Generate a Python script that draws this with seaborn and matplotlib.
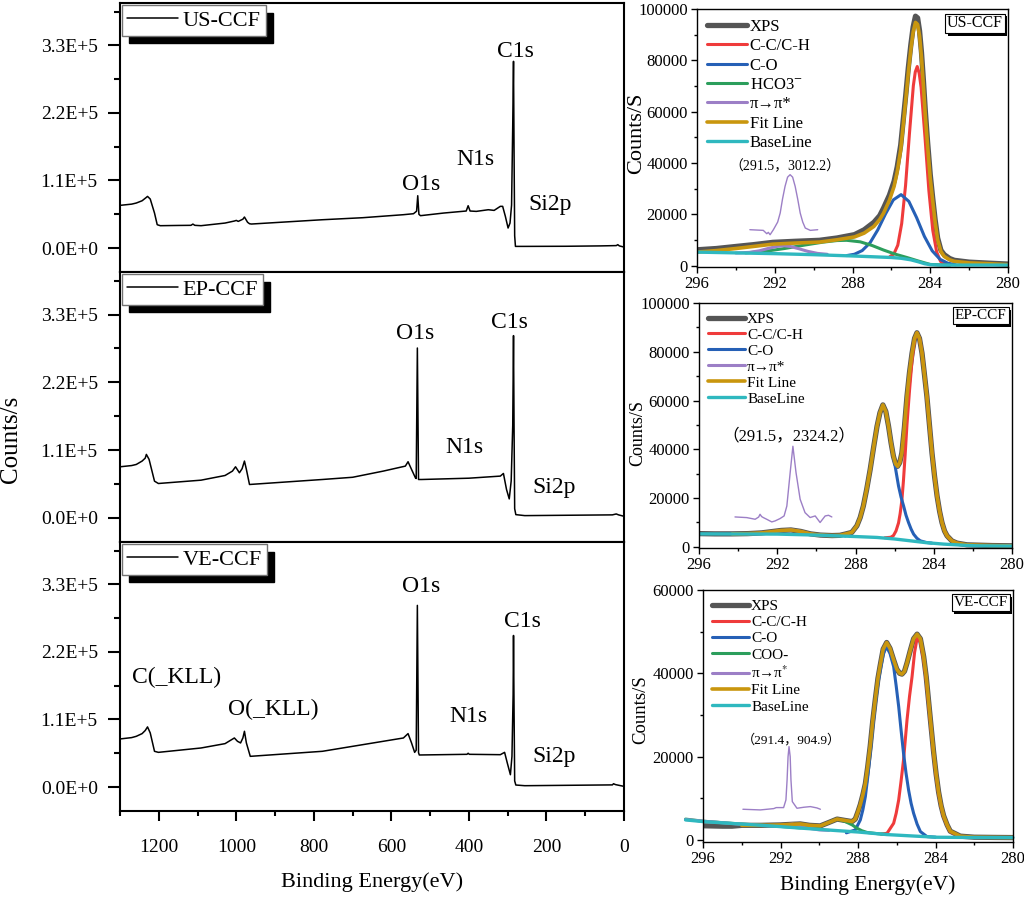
# -*- coding: utf-8 -*-
"""
XPS survey spectra and C1s fits for US-CCF, EP-CCF and VE-CCF
"""

import matplotlib
matplotlib.use("Agg")
import matplotlib.pyplot as plt
import matplotlib.patheffects as pe
from matplotlib.ticker import MultipleLocator
import seaborn as sns

# Section 1: survey spectra (binding energy eV, counts/s)
us_survey_be = [1300, 1270, 1258, 1243, 1233, 1229, 1222, 1211, 1204, 1196, 1150, 1117, 1112, 1107,
                1091, 1029, 1005, 1000, 995, 983, 979, 971, 966, 961, 778, 674, 569, 543, 535, 532,
                529, 525, 465, 407, 402, 397, 381, 350, 335, 319, 313, 306, 299, 294, 290, 287, 285,
                283.5, 282, 280, 256, 150, 60, 20, 16, 12, 0]
us_survey_cps = [69500, 71500, 73300, 77000, 82000, 84100, 79800, 57000, 38000, 36400, 36800, 37000,
                 39000, 37000, 36400, 40700, 44000, 45000, 43400, 47000, 50500, 42000, 39600, 39100,
                 46100, 49400, 54300, 55900, 60000, 85200, 55000, 52700, 57000, 60300, 68900, 60300,
                 59700, 62400, 61300, 67900, 67900, 51600, 32600, 40700, 70000, 200000, 304000,
                 150000, 20000, 2700, 2700, 2900, 3500, 4000, 5500, 3500, 1600]

ep_survey_be = [1300, 1270, 1258, 1243, 1235, 1232, 1225, 1211, 1201, 1091, 1029, 1010, 1002, 992,
                985, 979, 974, 966, 778, 700, 621, 564, 557, 548, 538, 536, 533, 530, 522, 400, 319,
                311, 303, 296, 291, 287, 285, 283.5, 282, 279, 256, 30, 20, 14, 0]
ep_survey_cps = [83000, 85000, 86800, 92300, 97000, 103100, 95000, 59700, 55900, 61300, 68900, 76000,
                 83000, 73300, 80000, 92300, 78700, 54300, 62400, 66000, 76000, 84100, 91200, 78700,
                 65100, 64000, 275700, 62400, 62400, 64500, 67900, 72200, 46100, 30900, 60000,
                 150000, 295800, 140000, 15000, 5400, 3800, 5000, 6500, 5000, 2700]

ve_survey_be = [1300, 1270, 1258, 1243, 1235, 1229, 1222, 1211, 1201, 1091, 1029, 1005, 997, 989,
                983, 979, 974, 964, 778, 569, 557, 548, 540, 536, 533, 530, 528, 405, 402, 399, 319,
                308, 301, 293, 289, 286, 285, 283.5, 282, 279, 256, 30, 27, 22, 0]
ve_survey_cps = [78300, 80500, 82600, 87000, 92000, 97900, 88100, 58200, 56500, 63600, 70700, 79900,
                 74500, 71800, 80000, 90800, 71800, 50000, 58200, 79900, 87000, 71800, 56500, 60000,
                 295800, 56000, 52200, 53300, 55000, 53300, 52700, 56500, 39100, 20100, 50000,
                 150000, 246800, 120000, 10000, 3300, 2200, 3500, 5400, 4000, 1100]

survey_ticks = [0, 1.1e5, 2.2e5, 3.3e5]
survey_tick_labels = ["0.0E+0", "1.1E+5", "2.2E+5", "3.3E+5"]

us_peak_names = ["C1s", "N1s", "O1s", "Si2p"]
us_peak_be = [279, 383, 522, 191]
us_peak_cps = [320000, 143800, 103100, 70600]
ep_peak_names = ["O1s", "C1s", "N1s", "Si2p"]
ep_peak_be = [538, 296, 411, 181]
ep_peak_cps = [298500, 317600, 114000, 48900]
ve_peak_names = ["O1s", "C1s", "C(_KLL)", "O(_KLL)", "N1s", "Si2p"]
ve_peak_be = [522, 261, 1154, 905, 402, 181]
ve_peak_cps = [327300, 270200, 177800, 126100, 115300, 50000]

# Section 2: C1s high resolution, US-CCF
us_xps_be = [296.0, 295.0, 294.0, 293.1, 292.1, 291.0, 289.7, 288.8, 287.9, 287.4, 286.9, 286.6,
             286.4, 286.1, 285.86, 285.7, 285.52, 285.4, 285.26, 285.13, 285.0, 284.88, 284.76,
             284.65, 284.55, 284.45, 284.35, 284.25, 284.14, 284.0, 283.88, 283.75, 283.62,
             283.45, 283.28, 283.0, 282.76, 282.0, 281.0, 280.0]
us_xps_cps = [6200, 6700, 7500, 8200, 9100, 9500, 9900, 10800, 12100, 14000, 16900, 19500, 22500,
              27500, 32900, 38500, 47000, 56000, 66500, 77000, 86000, 93000, 97200, 96500, 91500,
              83000, 72000, 60000, 48500, 35500, 26800, 18000, 10800, 6000, 4300, 2800, 2100,
              1400, 1000, 650]
us_fit_be = us_xps_be
us_fit_cps = [5300, 5900, 6700, 7500, 8400, 8800, 9200, 10100, 11200, 12700, 15300, 18000, 20500,
              25500, 30900, 36500, 45200, 54000, 64700, 75000, 84200, 91000, 94800, 94000, 89500,
              81000, 70000, 58000, 47000, 34000, 25700, 17000, 10100, 5500, 3600, 2300, 1700,
              1100, 800, 400]
us_cc_be = [286.07, 285.87, 285.67, 285.47, 285.27, 285.07, 284.87, 284.77, 284.67, 284.57, 284.47,
            284.27, 284.07, 283.87, 283.67, 283.47, 283.27, 283.0]
us_cc_cps = [3600, 4600, 8000, 16400, 31300, 51500, 70100, 75500, 77600, 75000, 69400, 50000,
             29200, 13800, 5350, 1700, 530, 300]
us_co_be = [288.3, 287.9, 287.5, 287.1, 286.7, 286.3, 285.9, 285.5, 285.1, 284.7, 284.3, 283.9,
            283.5, 283.1, 282.7]
us_co_cps = [3950, 4470, 5900, 8900, 13950, 20200, 25650, 27700, 25050, 18700, 11400, 5800, 2530,
             990, 400]
us_hco3_be = [293.5, 292.5, 291.5, 290.5, 289.5, 288.8, 288.3, 287.6, 287.0, 286.4, 285.8, 285.2,
              284.6, 284.0, 283.0]
us_hco3_cps = [5000, 5600, 6700, 8000, 9200, 9800, 9900, 9300, 7900, 6100, 4500, 3200, 1800, 500,
               200]
us_pi_be = [294.0, 293.3, 292.8, 292.3, 291.9, 291.55, 291.2, 290.8, 290.3, 289.8, 289.3]
us_pi_cps = [4950, 5200, 5800, 6800, 7500, 7800, 7500, 6700, 5600, 4800, 4450]
us_base_be = [296.0, 294.0, 292.0, 290.0, 288.0, 287.0, 286.0, 285.5, 285.0, 284.6, 284.3, 284.0,
              283.5, 282.0, 280.0]
us_base_cps = [5300, 5000, 4700, 4300, 3800, 3500, 3200, 2900, 2300, 1500, 800, 400, 250, 250, 250]
us_zoom_be = [293.28, 292.59, 292.41, 292.33, 292.24, 292.07, 291.85, 291.72, 291.6, 291.47,
              291.34, 291.21, 291.08, 290.95, 290.82, 290.69, 290.56, 290.43, 290.17, 289.79]
us_zoom_cps = [14030, 13770, 12470, 12990, 12080, 14030, 17000, 20520, 26000, 30920, 34500, 35460,
               34500, 30920, 26000, 20520, 17000, 14680, 13770, 14030]

# Section 3: C1s high resolution, EP-CCF
ep_fit_be = [294.3, 293.5, 292.8, 292.3, 291.8, 291.3, 290.8, 290.3, 289.8, 289.2, 288.8, 288.53,
             288.19, 287.93, 287.76, 287.6, 287.43, 287.25, 287.08, 286.9, 286.75, 286.6, 286.45,
             286.31, 286.18, 286.06, 285.95, 285.85, 285.74, 285.63, 285.5, 285.37, 285.24,
             285.11, 284.98, 284.86, 284.73, 284.6, 284.48, 284.35, 284.22, 284.09, 283.96,
             283.83, 283.7, 283.58, 283.45, 283.32, 283.07, 282.81, 282.3, 281.0, 280.0]
ep_fit_cps = [5300, 5400, 5700, 6200, 6700, 6900, 6300, 5300, 4800, 4600, 4700, 5200, 5900, 8600,
              12000, 16700, 23500, 31700, 40500, 49400, 55000, 58200, 55500, 49400, 42500, 37100,
              34000, 33000, 34500, 38500, 49000, 61600, 71500, 79400, 85500, 87800, 85500, 79400,
              71000, 61600, 50000, 38500, 29000, 20800, 14500, 9960, 6500, 4500, 2400, 1500, 800,
              500, 400]
ep_xps_be = [296.0, 295.2] + ep_fit_be
ep_xps_cps = [5400, 5300] + ep_fit_cps
ep_cc_be = [286.5, 286.2, 286.06, 285.93, 285.8, 285.72, 285.63, 285.55, 285.46, 285.37, 285.24,
            285.11, 284.98, 284.86, 284.73, 284.6, 284.48, 284.35, 284.22, 284.09, 283.96, 283.83,
            283.7, 283.58, 283.45, 283.32, 283.07, 282.81, 282.5]
ep_cc_cps = [3700, 3900, 4600, 6500, 9800, 13500, 19000, 27000, 38000, 50000, 64000, 76500, 85000,
             87700, 85500, 79400, 71000, 61600, 50000, 38500, 29000, 20800, 14500, 9960, 6500,
             4500, 2400, 1500, 900]
ep_co_be = [288.53, 288.19, 287.93, 287.76, 287.6, 287.43, 287.25, 287.08, 286.9, 286.75, 286.6,
            286.45, 286.31, 286.18, 286.06, 285.93, 285.8, 285.67, 285.54, 285.42, 285.29, 285.16,
            285.03, 284.86, 284.69, 284.4, 284.1]
ep_co_cps = [4400, 5900, 8600, 12000, 16700, 23500, 31700, 40500, 49400, 55000, 58200, 55500,
             49400, 43500, 37100, 31000, 24900, 20300, 16700, 13000, 9960, 7300, 5180, 3500, 2450,
             1800, 1500]
ep_pi_be = [293.5, 292.8, 292.3, 291.9, 291.5, 291.25, 290.9, 290.5, 290.1, 289.6]
ep_pi_cps = [5300, 5500, 6000, 6500, 6800, 6900, 6400, 5600, 5000, 4700]
ep_base_be = [296.0, 294.0, 292.0, 290.0, 289.2, 288.0, 286.9, 286.0, 285.2, 284.4, 283.5, 282.5,
              281.8, 280.0]
ep_base_cps = [5300, 5250, 5200, 4800, 4550, 4200, 3830, 3200, 2450, 1700, 1100, 650, 400, 300]
ep_zoom_be = [294.16, 293.56, 293.13, 292.95, 292.88, 292.8, 292.71, 292.54, 292.28, 292.11,
              291.86, 291.65, 291.51, 291.34, 291.2, 291.04, 290.83, 290.58, 290.32, 290.06,
              289.81, 289.55, 289.38, 289.21]
ep_zoom_cps = [12240, 11970, 11290, 12200, 13330, 12400, 11970, 11290, 10200, 10610, 11560, 12650,
               16700, 30400, 41230, 30400, 19500, 14000, 12000, 12650, 9960, 12650, 12920, 12240]

# Section 4: C1s high resolution, VE-CCF
ve_fit_be = [294.0, 293.0, 292.0, 291.4, 290.98, 290.5, 289.95, 289.5, 289.08, 288.7, 288.31,
             288.14, 288.0, 287.88, 287.75, 287.62, 287.5, 287.37, 287.24, 287.1, 286.97, 286.85,
             286.7, 286.52, 286.35, 286.16, 286.0, 285.85, 285.73, 285.6, 285.47, 285.3, 285.13,
             284.95, 284.78, 284.61, 284.48, 284.36, 284.23, 284.1, 283.97, 283.84, 283.71,
             283.58, 283.4, 283.24, 282.72, 282.0, 281.0, 280.0]
ve_fit_cps = [3500, 3500, 3600, 3750, 3840, 3500, 3360, 4200, 5000, 4700, 4400, 5000, 6800, 8500,
              10800, 13500, 17500, 22500, 28500, 34000, 38800, 42000, 45800, 47400, 46000, 43200,
              41000, 40000, 39800, 40500, 42500, 45500, 48300, 49400, 48300, 44000, 39200, 33500,
              27300, 21200, 15900, 11500, 8200, 5800, 3600, 2100, 900, 650, 600, 560]
ve_xps_be = [296.0, 295.0, 294.5] + ve_fit_be
ve_xps_cps = [3400, 3300, 3300] + ve_fit_cps
ve_cc_be = [286.8, 286.5, 286.16, 286.03, 285.9, 285.78, 285.65, 285.56, 285.47, 285.34, 285.21,
            285.08, 284.95, 284.78, 284.61, 284.48, 284.36, 284.23, 284.1, 283.97, 283.84, 283.71,
            283.58, 283.4, 283.24, 282.72, 282.3]
ve_cc_cps = [1400, 1600, 4000, 6400, 9600, 14000, 19200, 24000, 28800, 34500, 39200, 45000, 48400,
             47500, 43200, 38500, 32800, 26800, 20800, 15500, 11200, 8000, 5600, 3500, 2000, 800,
             650]
ve_co_be = [288.6, 288.14, 287.88, 287.75, 287.62, 287.5, 287.37, 287.24, 287.1, 286.97, 286.85,
            286.7, 286.54, 286.35, 286.16, 286.03, 285.9, 285.78, 285.65, 285.52, 285.39, 285.26,
            285.13, 284.95, 284.78, 284.44, 284.0]
ve_co_cps = [1700, 2400, 4800, 7200, 10400, 15000, 20800, 27000, 32800, 37500, 40800, 44500,
             46400, 44800, 41600, 37000, 32000, 26500, 20800, 16000, 12000, 8800, 6400, 3800, 2000,
             800, 650]
ve_coo_be = [296.9, 296.0, 294.0, 292.5, 291.0, 290.3, 289.9, 289.5, 289.08, 288.7, 288.3, 288.05,
             287.8, 287.54, 287.0, 286.5]
ve_coo_cps = [5000, 4500, 3800, 3400, 2900, 3000, 3400, 4200, 5000, 4500, 3600, 2800, 2200, 1800,
              1500, 1300]
ve_pi_be = [296.9, 296.0, 294.0, 292.5, 292.0, 291.6, 291.4, 291.2, 290.8, 290.0, 289.5]
ve_pi_cps = [4900, 4500, 3750, 3400, 3450, 3700, 3800, 3600, 3000, 2400, 2300]
ve_base_be = [296.9, 296.0, 294.0, 292.5, 291.0, 289.1, 288.0, 286.5, 285.0, 283.9, 282.0, 280.0]
ve_base_cps = [4800, 4400, 3800, 3360, 2850, 2240, 1900, 1280, 900, 640, 580, 560]
ve_zoom_be = [293.94, 293.04, 292.35, 292.22, 291.84, 291.72, 291.66, 291.61, 291.56, 291.5,
              291.46, 291.39, 291.15, 290.8, 290.46, 290.12, 289.94]
ve_zoom_cps = [7360, 7200, 7520, 7760, 7760, 9600, 14400, 20000, 22400, 20000, 14400, 9200, 7600,
               7840, 8000, 7680, 7360]

# Section 5: styling
sns.set_style("ticks", {"axes.edgecolor": "black", "xtick.color": "black", "ytick.color": "black",
                        "text.color": "black", "axes.labelcolor": "black"})
plt.rcParams["font.family"] = ["Liberation Serif", "Noto Sans CJK SC", "DejaVu Serif"]
plt.rcParams["mathtext.fontset"] = "stix"

GRAY = "#555555"
RED = "#ef3b3b"
BLUE = "#2660b6"
GREEN = "#2c9e5c"
PURPLE = "#9c7fc6"
GOLD = "#c9960e"
CYAN = "#2fb8bf"

fig = plt.figure(figsize=(10.24, 8.97), dpi=100)


def px_axes(x0, y0, x1, y1):
    # axes box from pixel corners of the 1024x897 canvas
    return fig.add_axes([x0 / 1024, 1 - y1 / 897, (x1 - x0) / 1024, (y1 - y0) / 897])


def survey_panel(ax, be, cps, name, names, peak_be, peak_cps, bottom):
    sns.lineplot(x=be, y=cps, ax=ax, color="black", lw=1.1, sort=False, estimator=None, label=name)
    ax.set_xlim(1300, 0)
    ax.set_ylim(-0.39e5, 3.99e5)
    ax.set_yticks(survey_ticks)
    ax.set_yticklabels(survey_tick_labels)
    ax.yaxis.set_minor_locator(MultipleLocator(0.55e5))
    ax.xaxis.set_major_locator(MultipleLocator(200))
    ax.xaxis.set_minor_locator(MultipleLocator(100))
    ax.tick_params(axis="y", which="major", length=9, width=1.5, labelsize=14, pad=7)
    ax.tick_params(axis="y", which="minor", length=4.5, width=1.5)
    if bottom:
        ax.tick_params(axis="x", which="major", length=7, width=1.5, labelsize=14, pad=13)
        ax.tick_params(axis="x", which="minor", length=3.5, width=1.5)
    else:
        ax.tick_params(axis="x", which="both", bottom=False, labelbottom=False)
    for s in ax.spines.values():
        s.set_linewidth(1.5)
    for n, b, c in zip(names, peak_be, peak_cps):
        ax.text(b, c, n, ha="center", va="center", fontsize=17)
    leg = ax.legend(loc="upper left", fontsize=16, frameon=True, fancybox=False, edgecolor="0.45",
                    framealpha=1, shadow={"color": "black", "alpha": 1, "ox": 5, "oy": -5.5},
                    handlelength=2.3, handletextpad=0.2, borderpad=0.22, borderaxespad=0.1)
    leg.get_frame().set_linewidth(1.0)
    ax.set_xlabel("")
    ax.set_ylabel("")


def c1s_panel(ax, curves, zoom_be, zoom_cps, note, note_be, note_cps, note_size,
              tag, tag_size, ymax, leg_size, leg_space):
    for label, be, cps, color, lw, clip in curves:
        sns.lineplot(x=be, y=cps, ax=ax, color=color, lw=lw, sort=False, estimator=None,
                     label=label, clip_on=clip)
    sns.lineplot(x=zoom_be, y=zoom_cps, ax=ax, color=PURPLE, lw=1.0, sort=False, estimator=None)
    ax.text(note_be, note_cps, note, ha="center", va="center", fontsize=note_size)
    ax.set_xlim(296, 280)
    ax.set_ylim(-500, ymax)
    ax.xaxis.set_major_locator(MultipleLocator(4))
    ax.xaxis.set_minor_locator(MultipleLocator(2))
    ax.yaxis.set_major_locator(MultipleLocator(20000))
    ax.yaxis.set_minor_locator(MultipleLocator(10000))
    ax.ticklabel_format(axis="y", style="plain", useOffset=False)
    ax.tick_params(which="major", length=4, width=1.0, labelsize=12, pad=2.5)
    ax.tick_params(which="minor", length=2.5, width=1.0)
    for s in ax.spines.values():
        s.set_linewidth(1.0)
    ax.legend(loc="upper left", frameon=False, fontsize=leg_size, handlelength=2.4,
              handletextpad=0.15, labelspacing=leg_space, borderpad=0.3, borderaxespad=0.3)
    t = ax.text(0.983, 0.975, tag, transform=ax.transAxes, ha="right", va="top",
                fontsize=tag_size,
                bbox=dict(boxstyle="square,pad=0.12", fc="white", ec="black", lw=0.8))
    t.get_bbox_patch().set_path_effects([pe.withSimplePatchShadow(offset=(2, -2),
                                                                  shadow_rgbFace="black",
                                                                  alpha=1)])
    ax.set_xlabel("")
    ax.set_ylabel("")


# Section 6: survey column
ax_us = px_axes(120, 3, 624, 272)
ax_ep = px_axes(120, 272, 624, 542)
ax_ve = px_axes(120, 542, 624, 811)
survey_panel(ax_us, us_survey_be, us_survey_cps, "US-CCF", us_peak_names, us_peak_be, us_peak_cps, False)
survey_panel(ax_ep, ep_survey_be, ep_survey_cps, "EP-CCF", ep_peak_names, ep_peak_be, ep_peak_cps, False)
survey_panel(ax_ve, ve_survey_be, ve_survey_cps, "VE-CCF", ve_peak_names, ve_peak_be, ve_peak_cps, True)
fig.text(11 / 1024, 1 - 439 / 897, "Counts/s", rotation=90, ha="center", va="center", fontsize=18)
fig.text(372 / 1024, 1 - 882 / 897, "Binding Energy(eV)", ha="center", va="center", fontsize=16)

# Section 7: C1s column
ax_us_c = px_axes(697, 9, 1008, 267)
ax_ep_c = px_axes(699, 303, 1012, 548)
ax_ve_c = px_axes(703, 590, 1013, 842)

c1s_panel(ax_us_c,
          [("XPS", us_xps_be, us_xps_cps, GRAY, 3.8, True),
           ("C-C/C-H", us_cc_be, us_cc_cps, RED, 2.2, True),
           ("C-O", us_co_be, us_co_cps, BLUE, 2.2, True),
           ("HCO3$^{-}$", us_hco3_be, us_hco3_cps, GREEN, 2.2, True),
           ("π→π*", us_pi_be, us_pi_cps, PURPLE, 2.2, True),
           ("Fit Line", us_fit_be, us_fit_cps, GOLD, 2.6, True),
           ("BaseLine", us_base_be, us_base_cps, CYAN, 2.4, True)],
          us_zoom_be, us_zoom_cps, "（291.5，3012.2）", 291.5, 38500, 10,
          "US-CCF", 11.5, 100000, 12, 0.2)

c1s_panel(ax_ep_c,
          [("XPS", ep_xps_be, ep_xps_cps, GRAY, 3.8, True),
           ("C-C/C-H", ep_cc_be, ep_cc_cps, RED, 2.2, True),
           ("C-O", ep_co_be, ep_co_cps, BLUE, 2.2, True),
           ("π→π*", ep_pi_be, ep_pi_cps, PURPLE, 2.2, True),
           ("Fit Line", ep_fit_be, ep_fit_cps, GOLD, 2.6, True),
           ("BaseLine", ep_base_be, ep_base_cps, CYAN, 2.4, True)],
          ep_zoom_be, ep_zoom_cps, "（291.5，2324.2）", 291.4, 45300, 12,
          "EP-CCF", 11, 100000, 11, 0.15)

c1s_panel(ax_ve_c,
          [("XPS", ve_xps_be, ve_xps_cps, GRAY, 3.8, True),
           ("C-C/C-H", ve_cc_be, ve_cc_cps, RED, 2.2, True),
           ("C-O", ve_co_be, ve_co_cps, BLUE, 2.2, True),
           ("COO-", ve_coo_be, ve_coo_cps, GREEN, 2.2, False),
           ("π→π$^{*}$", ve_pi_be, ve_pi_cps, PURPLE, 2.2, False),
           ("Fit Line", ve_fit_be, ve_fit_cps, GOLD, 2.6, True),
           ("BaseLine", ve_base_be, ve_base_cps, CYAN, 2.4, False)],
          ve_zoom_be, ve_zoom_cps, "（291.4，904.9）", 291.45, 24000, 9.5,
          "VE-CCF", 11, 60000, 11, 0.17)

fig.text(637 / 1024, 1 - 133 / 897, "Counts/S", rotation=90, ha="center", va="center", fontsize=16)
fig.text(638 / 1024, 1 - 433 / 897, "Counts/S", rotation=90, ha="center", va="center", fontsize=13)
fig.text(641 / 1024, 1 - 710 / 897, "Counts/S", rotation=90, ha="center", va="center", fontsize=13.5)
fig.text(868 / 1024, 1 - 885 / 897, "Binding Energy(eV)", ha="center", va="center", fontsize=15.5)

fig.savefig("out.png", dpi=100)
